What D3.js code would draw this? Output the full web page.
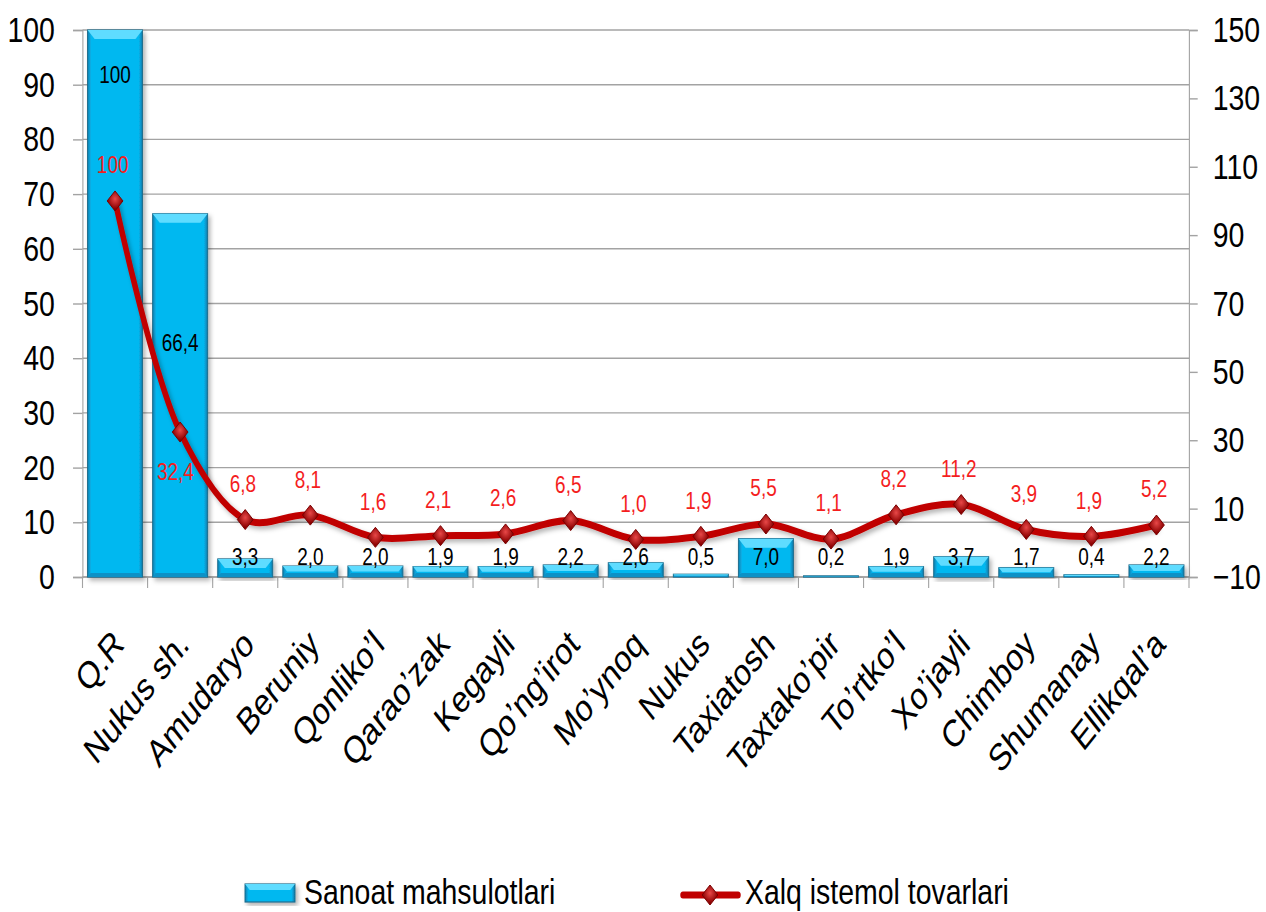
<!DOCTYPE html>
<html>
<head>
<meta charset="utf-8">
<script src="https://cdn.jsdelivr.net/npm/d3@7"></script>
<style>
  body { margin: 0; background: #fff; }
  svg { display: block; }
</style>
</head>
<body>
<svg id="chart"></svg>
<script>
// data
const categories = ["Q.R", "Nukus sh.", "Amudaryo", "Beruniy", "Qonliko’l", "Qarao’zak", "Kegayli",
  "Qo’ng’irot", "Mo’ynoq", "Nukus", "Taxiatosh", "Taxtako’pir", "To’rtko’l", "Xo’jayli",
  "Chimboy", "Shumanay", "Ellikqal’a"];
const sanoat = [100, 66.4, 3.3, 2.0, 2.0, 1.9, 1.9, 2.2, 2.6, 0.5, 7.0, 0.2, 1.9, 3.7, 1.7, 0.4, 2.2];
const xalq = [100, 32.4, 6.8, 8.1, 1.6, 2.1, 2.6, 6.5, 1.0, 1.9, 5.5, 1.1, 8.2, 11.2, 3.9, 1.9, 5.2];
const leftTicks = d3.range(0, 101, 10);
const rightTicks = d3.range(-10, 151, 20);
const seriesNames = ["Sanoat mahsulotlari", "Xalq istemol tovarlari"];

// labels that were dragged by hand in the original (left-axis value of label centre)
const barLabelAt = { "Q.R": 91.8, "Nukus sh.": 42.8 };
const lineLabelBelow = ["Nukus sh."];

const width = 1266, height = 912;
// the original picture is squeezed horizontally, so draw wide and scale x
const sx = 0.79;
const innerW = width / sx;
const font = "'Liberation Sans', Arial, sans-serif";
const fmt = v => (v === 100 ? "100" : v.toFixed(1).replace(".", ","));

const margin = { top: 30, right: innerW - 1189 / sx, bottom: height - 577, left: 82.5 / sx };

const svg = d3.select("#chart").attr("width", width).attr("height", height);

const defs = svg.append("defs");
const barGrad = defs.append("linearGradient").attr("id", "barGrad");
barGrad.append("stop").attr("offset", "0%").attr("stop-color", "#0a7fb0");
barGrad.append("stop").attr("offset", "7%").attr("stop-color", "#06b8f0");
barGrad.append("stop").attr("offset", "93%").attr("stop-color", "#06b8f0");
barGrad.append("stop").attr("offset", "100%").attr("stop-color", "#0a78a8");

const dia = defs.append("radialGradient").attr("id", "diaGrad")
  .attr("cx", "40%").attr("cy", "40%").attr("r", "70%");
dia.append("stop").attr("offset", "0%").attr("stop-color", "#e84848");
dia.append("stop").attr("offset", "100%").attr("stop-color", "#8a0000");

const shadow = defs.append("filter").attr("id", "shadow")
  .attr("x", "-20%").attr("y", "-20%").attr("width", "140%").attr("height", "140%");
shadow.append("feDropShadow").attr("dx", 3).attr("dy", 3).attr("stdDeviation", 2.5)
  .attr("flood-color", "#000").attr("flood-opacity", 0.3);

const g = svg.append("g").attr("transform", `scale(${sx},1)`);

// scales
const x = d3.scaleBand()
  .domain(categories)
  .range([margin.left, innerW - margin.right])
  .paddingInner(0.155)
  .paddingOuter(0.0775);

const yL = d3.scaleLinear().domain([0, 100]).range([height - margin.bottom, margin.top]);
const yR = d3.scaleLinear().domain([-10, 150]).range([height - margin.bottom, margin.top]);

const x0 = x.range()[0], x1 = x.range()[1];
const gridColor = "#a3a3a3";

// grid lines from the left axis
g.append("g")
  .selectAll("line")
  .data(leftTicks)
  .join("line")
  .attr("x1", x0).attr("x2", x1)
  .attr("y1", d => yL(d)).attr("y2", d => yL(d))
  .attr("stroke", gridColor).attr("stroke-width", 1.4);

// left axis
g.append("g")
  .attr("transform", `translate(${x0},0)`)
  .call(d3.axisLeft(yL).tickValues(leftTicks).tickSize(12).tickPadding(23))
  .call(a => a.select(".domain").attr("stroke", gridColor).attr("stroke-width", 1.4))
  .call(a => a.selectAll(".tick line").attr("stroke", gridColor).attr("stroke-width", 1.4))
  .call(a => a.selectAll("text").attr("font-family", font).attr("font-size", 36).attr("fill", "#000"));

// right axis
g.append("g")
  .attr("transform", `translate(${x1},0)`)
  .call(d3.axisRight(yR).tickValues(rightTicks).tickSize(11).tickPadding(19))
  .call(a => a.select(".domain").attr("stroke", gridColor).attr("stroke-width", 1.4))
  .call(a => a.selectAll(".tick line").attr("stroke", gridColor).attr("stroke-width", 1.4))
  .call(a => a.selectAll("text").attr("font-family", font).attr("font-size", 36).attr("fill", "#000"));

// category axis with ticks between the bands
const yBase = yL(0);
g.append("line")
  .attr("x1", x0).attr("x2", x1).attr("y1", yBase).attr("y2", yBase)
  .attr("stroke", gridColor).attr("stroke-width", 1.4);
g.append("g")
  .selectAll("line")
  .data(d3.range(categories.length + 1))
  .join("line")
  .attr("x1", i => x0 + i * x.step()).attr("x2", i => x0 + i * x.step())
  .attr("y1", yBase).attr("y2", yBase + 11)
  .attr("stroke", gridColor).attr("stroke-width", 1.4);

// rotated labels; the x squeeze shears them, like in the original
g.append("g")
  .selectAll("text")
  .data(categories)
  .join("text")
  .attr("transform", d => `translate(${x(d) + x.bandwidth() / 2 + 4},637) rotate(-45)`)
  .attr("text-anchor", "end")
  .attr("dy", "0.35em")
  .attr("font-family", font)
  .attr("font-size", 38)
  .text(d => d);

// bars
const bars = g.append("g")
  .selectAll("g")
  .data(categories.map((c, i) => ({ c, v: sanoat[i] })))
  .join("g")
  .attr("filter", "url(#shadow)");

bars.append("rect")
  .attr("x", d => x(d.c))
  .attr("y", d => yL(d.v))
  .attr("width", x.bandwidth())
  .attr("height", d => yBase - yL(d.v))
  .attr("fill", "url(#barGrad)")
  .attr("stroke", "#1d6c8c")
  .attr("stroke-width", 1.2);

// bevel on top and bottom of each bar
bars.append("path")
  .attr("fill", "#5fdcff")
  .attr("d", d => {
    const l = x(d.c), r = l + x.bandwidth(), t = yL(d.v);
    const b = Math.min(9, (yBase - t) / 2);
    return `M${l},${t}L${r},${t}L${r - b},${t + b}L${l + b},${t + b}Z`;
  });
bars.append("path")
  .attr("fill", "#0891c6")
  .attr("d", d => {
    const l = x(d.c), r = l + x.bandwidth(), t = yL(d.v);
    const b = Math.min(4, (yBase - t) / 2);
    return `M${l},${yBase}L${r},${yBase}L${r - b},${yBase - b}L${l + b},${yBase - b}Z`;
  });

// line series
const pts = categories.map((c, i) => ({ c, v: xalq[i] }));
const line = d3.line()
  .x(d => x(d.c) + x.bandwidth() / 2)
  .y(d => yR(d.v))
  .curve(d3.curveCatmullRom.alpha(0.5));

g.append("path")
  .datum(pts)
  .attr("fill", "none")
  .attr("stroke", "#c00000")
  .attr("stroke-width", 7)
  .attr("stroke-linejoin", "round")
  .attr("filter", "url(#shadow)")
  .attr("d", line);

const diamond = d3.symbol(d3.symbolSquare, 200);
g.append("g")
  .selectAll("path")
  .data(pts)
  .join("path")
  .attr("transform", d => `translate(${x(d.c) + x.bandwidth() / 2},${yR(d.v)}) rotate(45)`)
  .attr("d", diamond)
  .attr("fill", "url(#diaGrad)")
  .attr("stroke", "#7a0000")
  .attr("stroke-width", 1);

// bar labels: inside base unless moved
g.append("g")
  .selectAll("text")
  .data(categories.map((c, i) => ({ c, v: sanoat[i] })))
  .join("text")
  .attr("x", d => x(d.c) + x.bandwidth() / 2)
  .attr("y", d => (d.c in barLabelAt ? yL(barLabelAt[d.c]) : yBase - 20))
  .attr("dy", "0.35em")
  .attr("text-anchor", "middle")
  .attr("font-family", font)
  .attr("font-size", 24)
  .attr("fill", "#000")
  .text(d => fmt(d.v));

// line labels: above the point
g.append("g")
  .selectAll("text")
  .data(pts)
  .join("text")
  .attr("x", d => x(d.c) + x.bandwidth() / 2 - (lineLabelBelow.includes(d.c) ? 6 : 3))
  .attr("y", d => yR(d.v) + (lineLabelBelow.includes(d.c) ? 40 : -36))
  .attr("dy", "0.35em")
  .attr("text-anchor", "middle")
  .attr("font-family", font)
  .attr("font-size", 24)
  .attr("fill", "#f41e1e")
  .text(d => fmt(d.v));

// legend
const legY = 904;
const leg1 = g.append("g").attr("filter", "url(#shadow)");
leg1.append("rect")
  .attr("x", 245 / sx).attr("y", legY - 20)
  .attr("width", 50 / sx).attr("height", 18)
  .attr("fill", "url(#barGrad)").attr("stroke", "#1d6c8c").attr("stroke-width", 1.2);
leg1.append("path")
  .attr("fill", "#5fdcff")
  .attr("d", `M${245 / sx},${legY - 20}h${50 / sx}l-6,6h${-50 / sx + 12}z`);
g.append("text")
  .attr("x", 304 / sx).attr("y", legY)
  .attr("font-family", font).attr("font-size", 36)
  .text(seriesNames[0]);

g.append("line")
  .attr("x1", 683 / sx).attr("x2", 738 / sx)
  .attr("y1", legY - 9).attr("y2", legY - 9)
  .attr("stroke", "#c00000").attr("stroke-width", 7).attr("stroke-linecap", "round");
g.append("path")
  .attr("transform", `translate(${710 / sx},${legY - 9}) rotate(45)`)
  .attr("d", diamond)
  .attr("fill", "url(#diaGrad)").attr("stroke", "#7a0000");
g.append("text")
  .attr("x", 745 / sx).attr("y", legY)
  .attr("font-family", font).attr("font-size", 36)
  .text(seriesNames[1]);
</script>
</body>
</html>
